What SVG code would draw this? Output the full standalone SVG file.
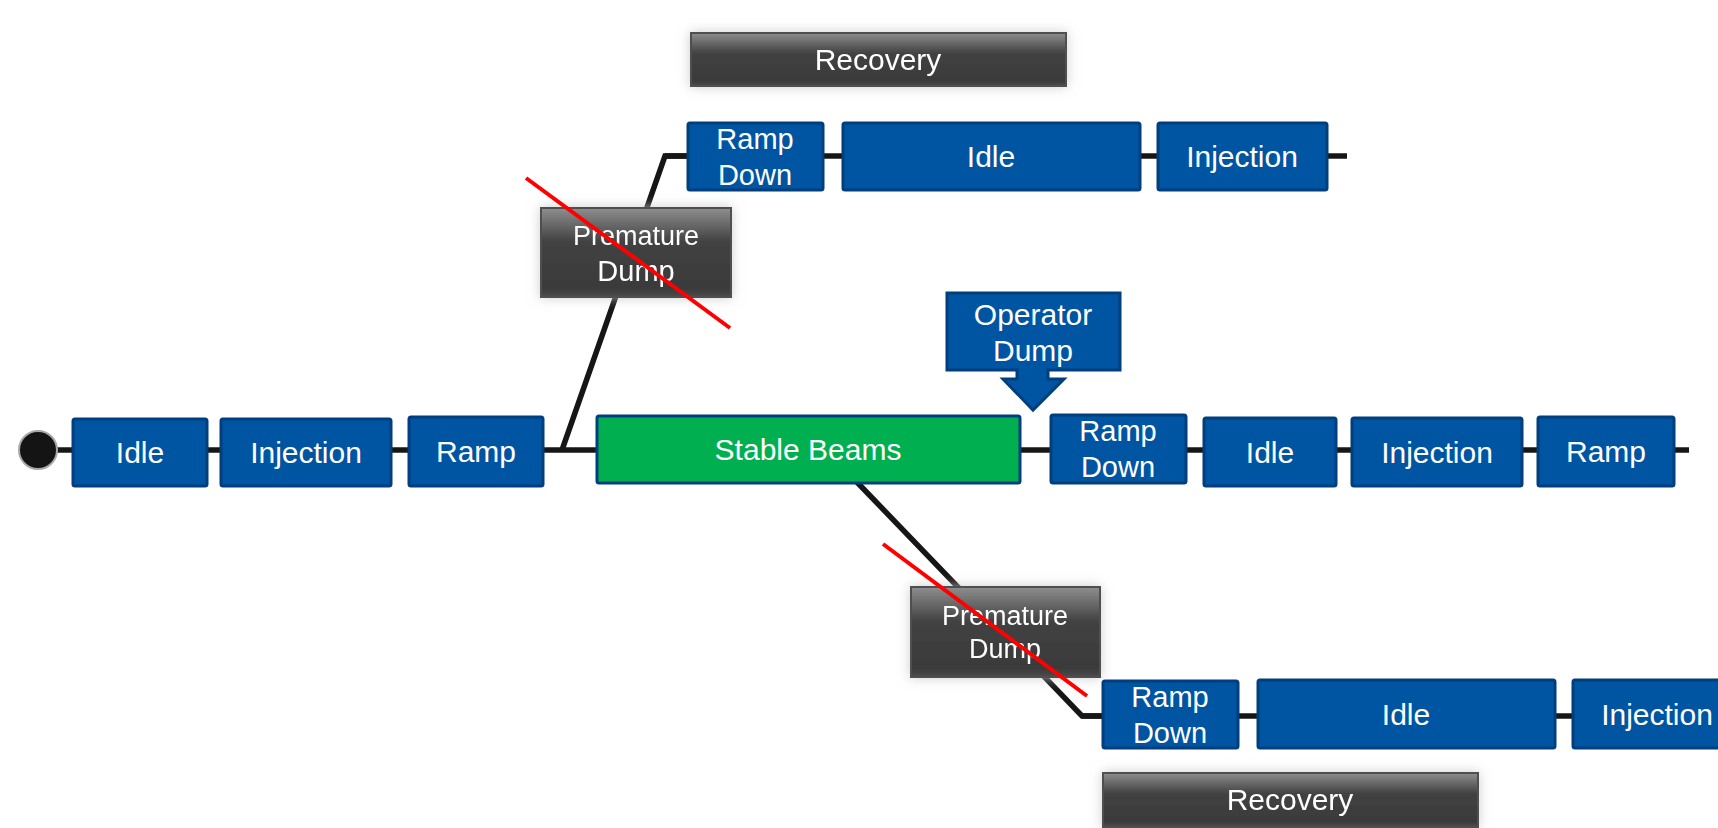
<svg xmlns="http://www.w3.org/2000/svg" width="1718" height="828" viewBox="0 0 1718 828">
  <defs>
    <linearGradient id="grayGrad" x1="0" y1="0" x2="0" y2="1">
      <stop offset="0" stop-color="#8e8e8e"/>
      <stop offset="0.38" stop-color="#424242"/>
      <stop offset="0.9" stop-color="#3a3a3a"/>
      <stop offset="1" stop-color="#4c4c4c"/>
    </linearGradient>
    <filter id="glow" x="-20%" y="-30%" width="140%" height="160%">
      <feGaussianBlur in="SourceAlpha" stdDeviation="6" result="b"/>
      <feFlood flood-color="#c4c4c4" flood-opacity="0.85"/>
      <feComposite in2="b" operator="in" result="g"/>
      <feMerge>
        <feMergeNode in="g"/>
        <feMergeNode in="SourceGraphic"/>
      </feMerge>
    </filter>
  </defs>
  <style>
    .blue { fill: #0055a2; stroke: #003f7e; stroke-width: 3; }
    .green { fill: #00b050; stroke: #003f7e; stroke-width: 3; }
    .gray { fill: url(#grayGrad); stroke: #505050; stroke-width: 2; }
    .conn { fill: none; stroke: #161616; stroke-width: 5.5; stroke-linejoin: miter; }
    .cross { stroke: #ff0000; stroke-width: 4; }
    text { font-family: "Liberation Sans", Arial, sans-serif; fill: #ffffff; text-anchor: middle; }
    .t30 { font-size: 30px; }
    .t29 { font-size: 29px; }
    .t27 { font-size: 27px; }
  </style>
  <rect width="1718" height="828" fill="#ffffff"/>

  <g id="connectors">
    <line class="conn" x1="38" y1="450" x2="1689" y2="450"/>
    <polyline class="conn" points="562,450 665,156 690,156"/>
    <line class="conn" x1="665" y1="156" x2="1347" y2="156"/>
    <polyline class="conn" points="853,478 1082,716 1105,716"/>
    <line class="conn" x1="1082" y1="716" x2="1718" y2="716"/>
  </g>

  <g id="start">
    <circle cx="38" cy="450" r="19" fill="#141414" stroke="#a8a8a8" stroke-width="2"/>
  </g>

  <g id="idle1"><rect class="blue" x="73" y="419" width="134" height="67" rx="2"/><text class="t30" x="140" y="463">Idle</text></g>
  <g id="injection1"><rect class="blue" x="221" y="419" width="170" height="67" rx="2"/><text class="t30" x="306" y="463">Injection</text></g>
  <g id="ramp1"><rect class="blue" x="409" y="417" width="134" height="69" rx="2"/><text class="t30" x="476" y="462">Ramp</text></g>
  <g id="stablebeams"><rect class="green" x="597" y="416" width="423" height="67" rx="2"/><text class="t30" x="808" y="460">Stable Beams</text></g>

  <g id="operatordump">
    <path class="blue" d="M947,293 H1120 V370 H1048 V379 H1064 L1033,410 L1003,379 H1017 V370 H947 Z"/>
    <text class="t30" x="1033" y="325">Operator</text>
    <text class="t30" x="1033" y="361">Dump</text>
  </g>

  <g id="rampdown1"><rect class="blue" x="1051" y="415" width="135" height="68" rx="2"/><text class="t29" x="1118" y="441">Ramp</text><text class="t29" x="1118" y="477">Down</text></g>
  <g id="idle2"><rect class="blue" x="1204" y="418" width="132" height="68" rx="2"/><text class="t30" x="1270" y="463">Idle</text></g>
  <g id="injection2"><rect class="blue" x="1352" y="418" width="170" height="68" rx="2"/><text class="t30" x="1437" y="463">Injection</text></g>
  <g id="ramp2"><rect class="blue" x="1538" y="417" width="136" height="69" rx="2"/><text class="t30" x="1606" y="462">Ramp</text></g>

  <g id="recovery-top" filter="url(#glow)"><rect class="gray" x="691" y="33" width="375" height="53"/><text class="t30" x="878" y="70">Recovery</text></g>
  <g id="rampdown-top"><rect class="blue" x="688" y="123" width="135" height="67" rx="2"/><text class="t29" x="755" y="149">Ramp</text><text class="t29" x="755" y="185">Down</text></g>
  <g id="idle-top"><rect class="blue" x="843" y="123" width="297" height="67" rx="2"/><text class="t30" x="991" y="167">Idle</text></g>
  <g id="injection-top"><rect class="blue" x="1158" y="123" width="169" height="67" rx="2"/><text class="t30" x="1242" y="167">Injection</text></g>

  <g id="premature-top" filter="url(#glow)"><rect class="gray" x="541" y="208" width="190" height="89"/><text class="t27" x="636" y="245">Premature</text><text class="t29" x="636" y="281">Dump</text></g>

  <g id="premature-bottom" filter="url(#glow)"><rect class="gray" x="911" y="587" width="189" height="90"/><text class="t27" x="1005" y="625">Premature</text><text class="t27" x="1005" y="658">Dump</text></g>

  <g id="rampdown-bottom"><rect class="blue" x="1103" y="681" width="135" height="67" rx="2"/><text class="t29" x="1170" y="707">Ramp</text><text class="t29" x="1170" y="743">Down</text></g>
  <g id="idle-bottom"><rect class="blue" x="1258" y="680" width="297" height="68" rx="2"/><text class="t30" x="1406" y="725">Idle</text></g>
  <g id="injection-bottom"><rect class="blue" x="1573" y="680" width="170" height="68" rx="2"/><text class="t30" x="1657" y="725">Injection</text></g>

  <g id="recovery-bottom" filter="url(#glow)"><rect class="gray" x="1103" y="773" width="375" height="54"/><text class="t30" x="1290" y="810">Recovery</text></g>

  <g id="crossouts">
    <line class="cross" x1="526" y1="178" x2="730" y2="328"/>
    <line class="cross" x1="883" y1="544" x2="1087" y2="696"/>
  </g>
</svg>
